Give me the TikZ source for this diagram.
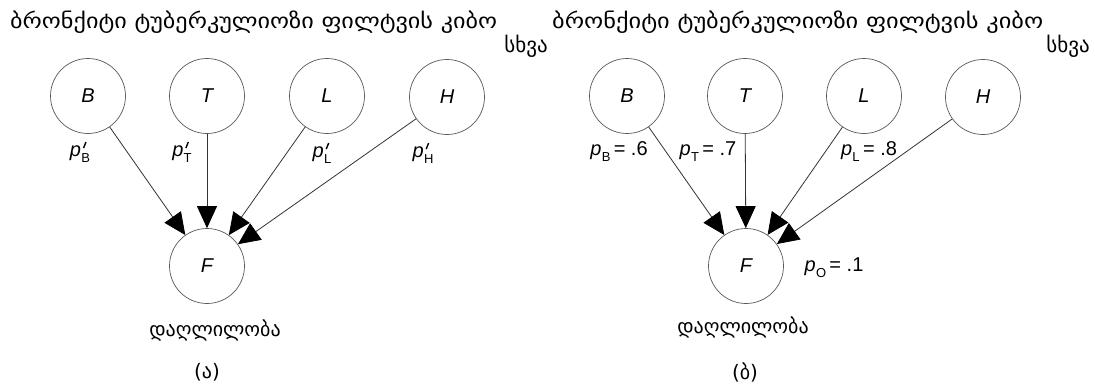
\documentclass[tikz,border=0pt]{standalone}
\usepackage{fontspec}
\setmainfont{Liberation Sans}
\newfontfamily\geo{DejaVu Sans}
\usetikzlibrary{arrows.meta}
\newcommand{\pv}[1]{\textit{p}\kern0.3pt\raisebox{-0.3em}{\fontsize{13}{13}\selectfont #1}}
\newcommand{\pvp}[1]{\textit{p}\kern0.3pt\makebox[0pt][l]{\raisebox{0.42em}{\kern1.5pt\rotatebox{-22}{\rule{1.4pt}{6.5pt}}}}\raisebox{-0.3em}{\fontsize{13}{13}\selectfont #1}}
\begin{document}
\begin{tikzpicture}[x=1pt,y=-1pt,
 state/.style={circle,draw=black!65,line width=0.7pt,minimum size=75pt,inner sep=0pt,font=\fontsize{20}{24}\selectfont\itshape},
 edge/.style={draw=black!80,line width=0.8pt,-{Triangle[length=22pt,width=20pt,color=black]}},
 geol/.style={font=\geo\fontsize{20}{24}\selectfont,inner sep=0pt},
 geot/.style={font=\geo\fontsize{21}{24}\selectfont,inner sep=0pt},
 lab/.style={font=\fontsize{20}{22}\selectfont,inner sep=0pt}]
\useasboundingbox[fill=white] (0,0) rectangle (1095,383);
% left panel
\node[state] (B) at (88,96) {B};
\node[state] (T) at (207,96) {T};
\node[state] (L) at (327,96) {L};
\node[state] (H) at (447,97) {H};
\node[state] (F) at (207,266) {F};
\foreach \s in {B,T,L,H} \draw[edge] (\s) -- (F);
\node[geot,anchor=west] (t1) at (10,22) {\resizebox{487pt}{\height}{ბრონქიტი ტუბერკულიოზი ფილტვის კიბო}};
\node[geot,anchor=east] (o1) at (548,46) {სხვა};
\node[lab] (lb) at (80,152) {\pvp{B}};
\node[lab] (lt) at (182,152) {\pvp{T}};
\node[lab] (ll) at (322,153) {\pvp{L}};
\node[lab] (lh) at (423,153) {\pvp{H}};
\node[geol] (f1) at (215,330) {დაღლილობა};
\node[geol] (c1) at (207,372) {(ა)};
% right panel
\node[state] (B2) at (627,96) {B};
\node[state] (T2) at (745,96) {T};
\node[state] (L2) at (864,96) {L};
\node[state] (H2) at (983,97) {H};
\node[state] (F2) at (746,266) {F};
\foreach \s in {B2,T2,L2,H2} \draw[edge] (\s) -- (F2);
\node[geot,anchor=west] (t2) at (552,22) {\resizebox{491pt}{\height}{ბრონქიტი ტუბერკულიოზი ფილტვის კიბო}};
\node[geot,anchor=east] (o2) at (1090,46) {სხვა};
\node[lab] (rb) at (619,152) {\pv{B}\,= .6};
\node[lab] (rt) at (708,152) {\pv{T}\,= .7};
\node[lab] (rl) at (869,152) {\pv{L}\,= .8};
\node[lab] (ro) at (834,268) {\pv{O}\,= .1};
\node[geol] (f2) at (743,327) {დაღლილობა};
\node[geol] (c2) at (745,372) {(ბ)};
\end{tikzpicture}
\end{document}
